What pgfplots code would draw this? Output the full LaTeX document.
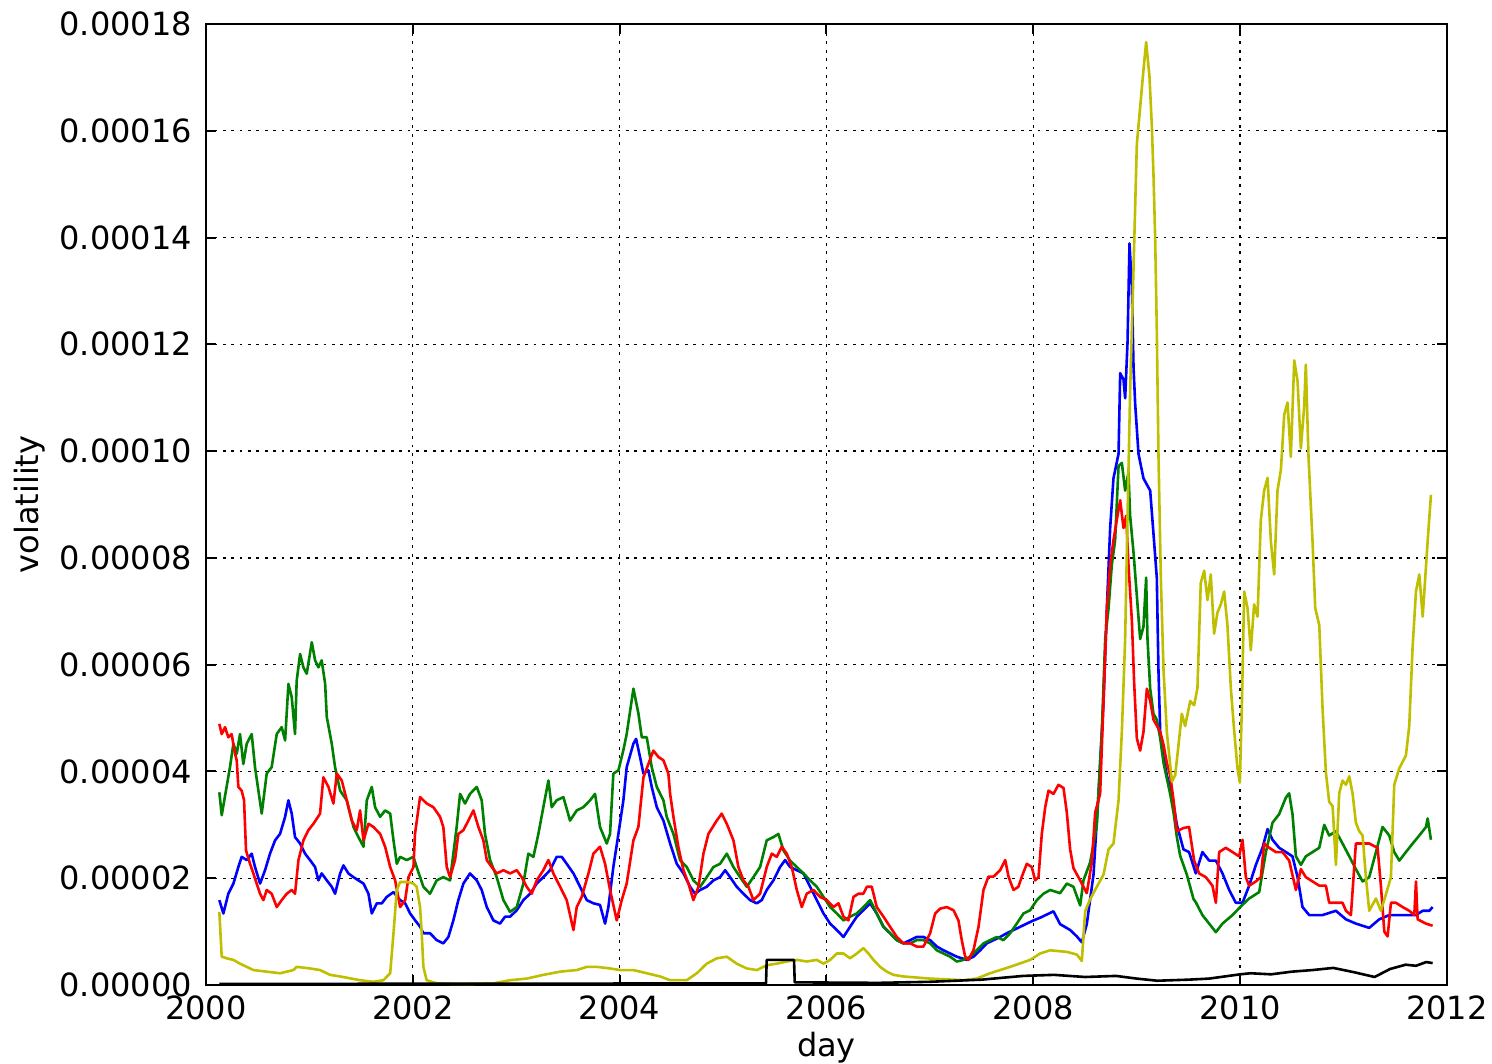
\documentclass[border=0pt]{standalone}
\usepackage{fontspec}
\setmainfont{DejaVu Sans}
\usepackage{pgfplots}
\usepackage{pgfplotstable}
\pgfplotsset{compat=1.18}

\definecolor{mplblue}{rgb}{0,0,1}
\definecolor{mplgreen}{rgb}{0,0.5,0}
\definecolor{mplred}{rgb}{1,0,0}
\definecolor{mplyellow}{rgb}{0.75,0.75,0}

% volatility values in units of 1e-5
\pgfplotstableread{
t v
2000.129 1.59
2000.168 1.34
2000.216 1.71
2000.265 1.90
2000.313 2.21
2000.345 2.40
2000.394 2.34
2000.442 2.46
2000.474 2.21
2000.523 1.90
2000.571 2.15
2000.619 2.46
2000.668 2.71
2000.716 2.83
2000.765 3.15
2000.797 3.46
2000.829 3.21
2000.861 2.77
2000.910 2.65
2000.958 2.46
2001.006 2.34
2001.055 2.21
2001.087 1.96
2001.119 2.09
2001.168 1.96
2001.216 1.84
2001.248 1.71
2001.297 2.09
2001.329 2.24
2001.377 2.09
2001.426 2.02
2001.474 1.96
2001.523 1.90
2001.571 1.71
2001.603 1.34
2001.652 1.53
2001.700 1.53
2001.748 1.65
2001.813 1.74
2001.877 1.59
2001.926 1.53
2001.974 1.34
2002.023 1.21
2002.071 1.09
2002.102 0.97
2002.166 0.97
2002.231 0.84
2002.295 0.78
2002.344 0.90
2002.392 1.21
2002.440 1.59
2002.489 1.90
2002.553 2.09
2002.618 1.96
2002.666 1.78
2002.715 1.46
2002.779 1.21
2002.843 1.15
2002.892 1.28
2002.940 1.28
2003.005 1.40
2003.069 1.59
2003.134 1.71
2003.198 1.90
2003.262 2.02
2003.327 2.15
2003.391 2.40
2003.440 2.40
2003.488 2.27
2003.553 2.09
2003.617 1.84
2003.682 1.59
2003.746 1.53
2003.810 1.50
2003.859 1.15
2003.891 1.46
2003.939 2.21
2003.988 2.83
2004.036 3.46
2004.068 4.08
2004.133 4.52
2004.159 4.61
2004.197 4.27
2004.230 3.96
2004.278 4.02
2004.310 3.71
2004.359 3.33
2004.423 3.08
2004.488 2.65
2004.552 2.27
2004.617 2.09
2004.681 1.84
2004.729 1.71
2004.778 1.78
2004.842 1.84
2004.907 1.96
2004.971 2.02
2005.020 2.15
2005.068 2.02
2005.132 1.84
2005.197 1.71
2005.261 1.59
2005.326 1.53
2005.374 1.59
2005.422 1.78
2005.487 1.96
2005.551 2.21
2005.600 2.34
2005.648 2.21
2005.713 2.15
2005.777 2.09
2005.842 1.84
2005.906 1.59
2005.971 1.34
2006.035 1.15
2006.100 1.03
2006.164 0.90
2006.228 1.09
2006.293 1.28
2006.357 1.40
2006.422 1.53
2006.486 1.34
2006.551 1.09
2006.615 0.97
2006.680 0.84
2006.744 0.78
2006.809 0.84
2006.873 0.90
2006.938 0.90
2007.002 0.84
2007.067 0.72
2007.131 0.65
2007.196 0.59
2007.260 0.53
2007.357 0.47
2007.421 0.53
2007.486 0.65
2007.550 0.78
2007.615 0.84
2007.679 0.90
2007.744 0.97
2007.808 1.03
2007.873 1.09
2007.937 1.15
2008.002 1.21
2008.066 1.26
2008.195 1.38
2008.259 1.14
2008.356 1.03
2008.421 0.91
2008.469 0.80
2008.517 1.14
2008.582 2.07
2008.630 3.58
2008.679 5.32
2008.711 7.05
2008.743 8.56
2008.775 9.49
2008.824 9.95
2008.840 11.46
2008.872 11.34
2008.888 10.99
2008.911 12.04
2008.930 13.89
2008.953 13.08
2008.969 11.57
2008.985 10.88
2009.017 9.95
2009.065 9.49
2009.130 9.26
2009.162 8.45
2009.194 7.63
2009.210 5.90
2009.227 4.74
2009.259 4.27
2009.291 3.93
2009.340 3.58
2009.388 3.00
2009.452 2.54
2009.506 2.49
2009.571 2.09
2009.635 2.49
2009.700 2.33
2009.765 2.33
2009.829 2.09
2009.894 1.78
2009.958 1.54
2010.023 1.54
2010.087 1.86
2010.152 2.25
2010.216 2.57
2010.265 2.92
2010.313 2.72
2010.377 2.57
2010.442 2.49
2010.506 2.41
2010.555 2.02
2010.603 1.46
2010.668 1.31
2010.797 1.31
2010.926 1.39
2011.023 1.23
2011.119 1.15
2011.248 1.07
2011.345 1.23
2011.442 1.31
2011.571 1.31
2011.700 1.31
2011.765 1.39
2011.829 1.39
2011.861 1.46
}\tblue

\pgfplotstableread{
t v
2000.129 3.61
2000.152 3.18
2000.232 4.08
2000.265 4.52
2000.297 4.33
2000.329 4.70
2000.361 4.14
2000.394 4.52
2000.442 4.70
2000.474 4.08
2000.539 3.21
2000.587 3.96
2000.635 4.08
2000.684 4.70
2000.732 4.83
2000.765 4.58
2000.797 5.64
2000.829 5.39
2000.861 4.70
2000.877 5.70
2000.910 6.20
2000.942 5.95
2000.974 5.83
2001.023 6.42
2001.055 6.08
2001.087 5.95
2001.119 6.08
2001.152 5.64
2001.168 5.02
2001.216 4.52
2001.248 4.08
2001.297 3.64
2001.361 3.46
2001.426 2.96
2001.474 2.77
2001.523 2.59
2001.555 3.46
2001.603 3.71
2001.635 3.33
2001.684 3.15
2001.732 3.27
2001.781 3.21
2001.813 2.71
2001.845 2.27
2001.877 2.40
2001.942 2.34
2002.006 2.40
2002.037 2.21
2002.102 1.84
2002.166 1.71
2002.231 1.96
2002.295 2.02
2002.360 1.96
2002.424 2.96
2002.457 3.58
2002.505 3.40
2002.553 3.58
2002.618 3.71
2002.666 3.46
2002.698 2.83
2002.747 2.34
2002.811 2.02
2002.876 1.59
2002.940 1.37
2003.005 1.46
2003.069 1.90
2003.117 2.46
2003.166 2.40
2003.214 2.83
2003.262 3.33
2003.311 3.83
2003.343 3.33
2003.391 3.46
2003.456 3.52
2003.520 3.08
2003.585 3.27
2003.649 3.33
2003.714 3.46
2003.762 3.58
2003.810 2.96
2003.875 2.65
2003.907 2.83
2003.939 3.96
2003.988 4.02
2004.036 4.40
2004.068 4.70
2004.133 5.55
2004.181 5.09
2004.214 4.64
2004.262 4.64
2004.310 4.08
2004.359 3.71
2004.423 3.46
2004.455 3.15
2004.520 2.83
2004.584 2.34
2004.649 2.21
2004.713 1.96
2004.778 1.84
2004.842 2.02
2004.907 2.21
2004.971 2.27
2005.036 2.46
2005.100 2.21
2005.165 2.02
2005.229 1.84
2005.293 2.02
2005.358 2.21
2005.422 2.71
2005.487 2.77
2005.535 2.83
2005.584 2.52
2005.648 2.33
2005.713 2.21
2005.777 2.09
2005.842 1.96
2005.906 1.84
2005.971 1.65
2006.035 1.46
2006.100 1.34
2006.164 1.21
2006.228 1.28
2006.293 1.34
2006.357 1.46
2006.422 1.59
2006.486 1.34
2006.551 1.09
2006.615 0.97
2006.680 0.84
2006.744 0.78
2006.809 0.78
2006.873 0.84
2006.938 0.84
2007.002 0.78
2007.067 0.65
2007.131 0.59
2007.196 0.53
2007.260 0.44
2007.324 0.47
2007.389 0.53
2007.453 0.65
2007.518 0.78
2007.582 0.84
2007.647 0.90
2007.711 0.84
2007.776 0.97
2007.840 1.15
2007.905 1.34
2007.969 1.40
2008.034 1.59
2008.098 1.71
2008.163 1.78
2008.259 1.72
2008.324 1.90
2008.388 1.84
2008.453 1.49
2008.485 1.96
2008.550 2.30
2008.614 3.00
2008.662 4.74
2008.695 6.48
2008.727 7.05
2008.759 7.87
2008.791 8.33
2008.824 9.72
2008.856 9.78
2008.888 9.26
2008.920 9.60
2008.936 8.79
2008.969 8.10
2009.001 7.29
2009.033 6.48
2009.065 6.71
2009.091 7.63
2009.104 6.48
2009.130 5.55
2009.162 5.08
2009.194 4.97
2009.227 4.62
2009.259 4.16
2009.323 3.58
2009.356 3.23
2009.388 2.77
2009.420 2.42
2009.484 2.07
2009.549 1.61
2009.571 1.55
2009.635 1.31
2009.700 1.15
2009.765 0.99
2009.829 1.15
2009.926 1.31
2010.000 1.46
2010.087 1.62
2010.184 1.74
2010.248 2.48
2010.313 3.04
2010.377 3.20
2010.442 3.51
2010.474 3.59
2010.506 3.20
2010.539 2.41
2010.587 2.25
2010.635 2.41
2010.700 2.49
2010.765 2.57
2010.813 3.00
2010.861 2.80
2010.926 2.88
2010.990 2.65
2011.055 2.41
2011.119 2.17
2011.184 1.94
2011.248 2.02
2011.313 2.49
2011.377 2.96
2011.442 2.80
2011.490 2.49
2011.539 2.33
2011.603 2.49
2011.668 2.65
2011.732 2.80
2011.797 2.96
2011.813 3.12
2011.845 2.72
}\tgreen

\pgfplotstableread{
t v
2000.129 4.89
2000.152 4.70
2000.184 4.83
2000.216 4.64
2000.248 4.70
2000.281 4.33
2000.297 4.21
2000.313 3.71
2000.345 3.64
2000.368 3.46
2000.387 2.52
2000.426 2.27
2000.458 2.09
2000.490 1.90
2000.523 1.71
2000.555 1.59
2000.587 1.78
2000.635 1.71
2000.684 1.46
2000.732 1.59
2000.781 1.71
2000.829 1.78
2000.861 1.71
2000.894 2.34
2000.942 2.71
2000.990 2.90
2001.039 3.02
2001.103 3.21
2001.135 3.89
2001.184 3.71
2001.232 3.40
2001.265 3.96
2001.313 3.83
2001.361 3.46
2001.410 3.08
2001.458 2.90
2001.490 3.27
2001.523 2.71
2001.571 3.02
2001.619 2.96
2001.684 2.83
2001.732 2.59
2001.781 2.21
2001.829 1.96
2001.877 1.46
2001.926 1.59
2001.958 2.02
2002.006 2.21
2002.021 2.83
2002.070 3.52
2002.134 3.40
2002.199 3.33
2002.263 3.15
2002.295 2.96
2002.328 2.21
2002.360 2.02
2002.408 2.34
2002.440 2.83
2002.489 2.90
2002.537 3.08
2002.586 3.27
2002.634 2.96
2002.682 2.71
2002.715 2.34
2002.763 2.21
2002.811 2.09
2002.876 2.15
2002.940 2.09
2003.005 2.15
2003.053 2.02
2003.101 1.84
2003.150 1.71
2003.198 1.96
2003.262 2.15
2003.311 2.34
2003.359 2.09
2003.424 1.84
2003.488 1.59
2003.553 1.03
2003.585 1.46
2003.633 1.65
2003.698 2.09
2003.746 2.46
2003.810 2.59
2003.859 2.27
2003.907 1.78
2003.972 1.21
2004.020 1.59
2004.068 1.90
2004.133 2.71
2004.181 2.96
2004.230 3.89
2004.278 4.14
2004.326 4.39
2004.375 4.27
2004.423 4.21
2004.471 3.96
2004.488 3.58
2004.520 3.15
2004.568 2.58
2004.617 2.15
2004.665 1.90
2004.713 1.59
2004.762 1.84
2004.810 2.46
2004.858 2.83
2004.939 3.08
2004.987 3.21
2005.036 3.02
2005.100 2.71
2005.148 2.21
2005.197 1.96
2005.245 1.84
2005.293 1.59
2005.358 1.71
2005.422 2.21
2005.471 2.46
2005.519 2.40
2005.568 2.59
2005.616 2.46
2005.664 2.21
2005.713 1.78
2005.761 1.46
2005.809 1.71
2005.874 1.78
2005.938 1.65
2006.003 1.59
2006.067 1.46
2006.116 1.53
2006.164 1.28
2006.212 1.21
2006.261 1.65
2006.309 1.71
2006.357 1.71
2006.390 1.84
2006.438 1.84
2006.486 1.46
2006.551 1.28
2006.615 1.09
2006.680 0.90
2006.744 0.78
2006.809 0.78
2006.873 0.72
2006.938 0.72
2007.002 0.97
2007.051 1.34
2007.099 1.43
2007.163 1.46
2007.228 1.40
2007.276 1.21
2007.308 0.84
2007.341 0.53
2007.373 0.47
2007.421 0.65
2007.470 1.09
2007.518 1.78
2007.566 2.03
2007.615 2.03
2007.679 2.15
2007.728 2.34
2007.760 2.03
2007.808 1.78
2007.856 1.84
2007.889 2.03
2007.937 2.27
2007.985 2.21
2008.018 1.96
2008.050 2.02
2008.082 2.83
2008.115 3.33
2008.147 3.64
2008.195 3.58
2008.243 3.75
2008.292 3.69
2008.324 3.23
2008.356 2.54
2008.388 2.19
2008.453 1.96
2008.517 1.72
2008.566 2.30
2008.598 3.23
2008.646 3.58
2008.679 5.32
2008.711 7.05
2008.743 7.87
2008.775 8.33
2008.814 8.79
2008.840 9.08
2008.872 8.56
2008.898 8.79
2008.920 7.87
2008.953 6.82
2008.975 5.66
2009.001 4.62
2009.033 4.39
2009.065 4.74
2009.098 5.55
2009.130 5.32
2009.162 4.97
2009.194 4.86
2009.227 4.74
2009.259 4.50
2009.291 4.16
2009.323 3.93
2009.356 3.46
2009.388 2.88
2009.452 2.94
2009.506 2.96
2009.555 2.33
2009.603 2.09
2009.668 2.02
2009.732 1.86
2009.765 1.54
2009.797 2.49
2009.861 2.57
2009.926 2.49
2009.990 2.41
2010.023 2.72
2010.055 2.02
2010.087 1.86
2010.152 1.94
2010.200 2.02
2010.232 2.65
2010.281 2.57
2010.345 2.49
2010.410 2.49
2010.474 2.33
2010.539 1.78
2010.587 2.17
2010.635 2.02
2010.700 1.94
2010.765 1.86
2010.829 1.86
2010.861 1.54
2010.926 1.54
2010.990 1.54
2011.023 1.39
2011.071 1.31
2011.119 2.65
2011.184 2.65
2011.248 2.65
2011.329 2.57
2011.361 1.86
2011.394 1.00
2011.426 0.91
2011.458 1.54
2011.506 1.54
2011.571 1.46
2011.635 1.39
2011.684 1.31
2011.700 1.94
2011.716 1.23
2011.797 1.15
2011.861 1.11
}\tred

\pgfplotstableread{
t v
2000.129 1.37
2000.152 0.53
2000.200 0.50
2000.265 0.47
2000.329 0.40
2000.394 0.34
2000.458 0.28
2000.587 0.25
2000.716 0.22
2000.845 0.28
2000.877 0.34
2001.006 0.31
2001.103 0.28
2001.200 0.19
2001.297 0.16
2001.490 0.09
2001.619 0.06
2001.716 0.09
2001.781 0.22
2001.813 0.97
2001.845 1.78
2001.877 1.93
2001.942 1.93
2002.006 1.90
2002.037 1.84
2002.070 1.46
2002.086 0.97
2002.102 0.34
2002.134 0.09
2002.231 0.03
2002.457 0.02
2002.779 0.03
2002.940 0.09
2003.101 0.12
2003.262 0.19
2003.424 0.25
2003.585 0.28
2003.682 0.34
2003.778 0.34
2003.907 0.31
2004.004 0.28
2004.133 0.28
2004.262 0.22
2004.391 0.16
2004.488 0.09
2004.649 0.09
2004.746 0.22
2004.842 0.40
2004.939 0.50
2005.036 0.53
2005.132 0.40
2005.229 0.31
2005.326 0.28
2005.422 0.37
2005.519 0.40
2005.616 0.44
2005.713 0.47
2005.809 0.44
2005.906 0.47
2005.971 0.40
2006.035 0.47
2006.100 0.59
2006.164 0.59
2006.228 0.50
2006.293 0.59
2006.357 0.69
2006.406 0.59
2006.454 0.47
2006.519 0.34
2006.583 0.25
2006.648 0.19
2006.744 0.16
2007.002 0.12
2007.324 0.09
2007.453 0.12
2007.582 0.22
2007.776 0.34
2007.969 0.47
2008.066 0.59
2008.163 0.65
2008.324 0.62
2008.421 0.57
2008.469 0.45
2008.501 1.38
2008.550 1.61
2008.614 1.84
2008.679 2.07
2008.727 2.54
2008.775 2.65
2008.824 3.46
2008.856 4.74
2008.888 6.48
2008.911 8.79
2008.936 11.11
2008.969 13.43
2009.001 15.75
2009.033 16.44
2009.065 17.14
2009.091 17.66
2009.123 17.02
2009.146 16.09
2009.162 15.17
2009.178 14.01
2009.194 12.27
2009.210 9.95
2009.233 7.63
2009.259 5.90
2009.291 4.74
2009.340 3.81
2009.372 3.93
2009.404 4.50
2009.436 5.08
2009.468 4.85
2009.517 5.32
2009.555 5.24
2009.587 5.56
2009.619 7.53
2009.652 7.76
2009.684 7.21
2009.716 7.69
2009.748 6.58
2009.781 6.98
2009.813 7.13
2009.845 7.37
2009.877 6.74
2009.910 5.56
2009.942 4.77
2009.974 4.06
2009.997 3.79
2010.016 5.17
2010.039 7.37
2010.071 7.06
2010.103 6.27
2010.135 7.13
2010.168 6.90
2010.200 8.71
2010.232 9.26
2010.265 9.50
2010.297 8.31
2010.329 7.69
2010.361 9.26
2010.394 9.65
2010.426 10.68
2010.458 10.91
2010.490 9.89
2010.523 11.70
2010.555 11.31
2010.587 10.05
2010.619 10.83
2010.635 11.62
2010.661 9.89
2010.700 8.31
2010.726 7.06
2010.765 6.74
2010.797 5.17
2010.829 3.98
2010.861 3.43
2010.894 3.35
2010.926 2.25
2010.958 3.59
2010.990 3.83
2011.023 3.75
2011.055 3.91
2011.087 3.59
2011.119 3.04
2011.152 2.88
2011.184 2.80
2011.216 2.02
2011.248 1.39
2011.313 1.62
2011.361 1.39
2011.410 1.70
2011.458 2.02
2011.490 3.75
2011.539 4.06
2011.603 4.30
2011.635 4.85
2011.668 6.35
2011.700 7.37
2011.732 7.69
2011.765 6.90
2011.797 7.84
2011.813 8.31
2011.845 9.18
}\tyellow

\pgfplotstableread{
t v
2000.129 0.02
2005.415 0.03
2005.422 0.47
2005.686 0.47
2005.693 0.05
2006.500 0.04
2007.000 0.06
2007.500 0.10
2007.900 0.17
2008.200 0.19
2008.500 0.15
2008.800 0.17
2009.000 0.12
2009.200 0.08
2009.500 0.10
2009.700 0.12
2010.000 0.20
2010.100 0.22
2010.300 0.20
2010.500 0.25
2010.700 0.28
2010.900 0.32
2011.100 0.24
2011.300 0.15
2011.450 0.30
2011.600 0.38
2011.700 0.36
2011.800 0.43
2011.861 0.41
}\tblack

\begin{document}
\begin{tikzpicture}
\useasboundingbox (-51.5pt,-19.5pt) rectangle (321.5pt,246.25pt);
\begin{axis}[
  at={(0,0)}, anchor=south west,
  scale only axis, width=310.25pt, height=240.25pt,
  xmin=2000, xmax=2012, ymin=0, ymax=0.00018,
  xtick={2000,2002,2004,2006,2008,2010,2012},
  ytick={0,0.00002,0.00004,0.00006,0.00008,0.0001,0.00012,0.00014,0.00016,0.00018},
  grid=major,
  grid style={black, line width=0.33pt, dash pattern=on 0.7pt off 1.4pt},
  axis line style={black, line width=0.65pt},
  tick align=inside, major tick length=2.6pt,
  tick style={black, line width=0.5pt},
  /pgf/number format/assume math mode=true,
  xticklabel style={/pgf/number format/1000 sep={}, yshift=0.8pt},
  scaled y ticks=false,
  yticklabel style={/pgf/number format/.cd, fixed, fixed zerofill, precision=5},
  ticklabel style={font=\fontsize{8}{9.6}\selectfont},
  label style={font=\fontsize{8}{9.6}\selectfont},
  xlabel={day}, ylabel={volatility},
  xlabel style={yshift=3.8pt},
  ylabel style={yshift=-3.2pt},
  clip=true,
  every axis plot/.append style={line width=0.65pt, line join=round},
]
\addplot[mplblue] table[x=t, y expr=\thisrow{v}*1e-5] {\tblue};
\addplot[mplgreen] table[x=t, y expr=\thisrow{v}*1e-5] {\tgreen};
\addplot[mplred] table[x=t, y expr=\thisrow{v}*1e-5] {\tred};
\addplot[mplyellow] table[x=t, y expr=\thisrow{v}*1e-5] {\tyellow};
\addplot[black] table[x=t, y expr=\thisrow{v}*1e-5] {\tblack};
\end{axis}
\end{tikzpicture}
\end{document}
